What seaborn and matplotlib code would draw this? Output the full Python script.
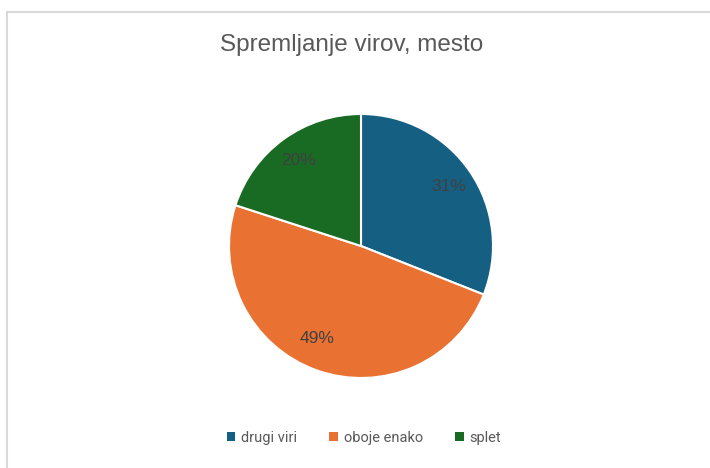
import matplotlib
matplotlib.use("Agg")
import matplotlib.pyplot as plt
from matplotlib.patches import Patch
from matplotlib.lines import Line2D
import seaborn as sns

categories = ["drugi viri", "oboje enako", "splet"]
shares = [31, 49, 20]
colors = ["#156082", "#E97132", "#196B24"]
title_text = "Spremljanje virov, mesto"

sns.set_theme(style="white")
plt.rcParams["font.family"] = ["Liberation Sans Narrow", "Liberation Sans", "DejaVu Sans"]

W, H = 710, 468
fig = plt.figure(figsize=(W / 100, H / 100), dpi=100)
fig.patch.set_facecolor("white")

# light chart-area frame
frame_kw = dict(color="#D9D9D9", linewidth=1.5, transform=fig.transFigure)
fig.add_artist(Line2D([7 / W, 1], [1 - 12 / H, 1 - 12 / H], **frame_kw))
fig.add_artist(Line2D([7 / W, 7 / W], [0, 1 - 12 / H], **frame_kw))

cx, cy, r = 361, 246, 132
ax = fig.add_axes([(cx - r) / W, (H - cy - r) / H, 2 * r / W, 2 * r / H])
wedges, texts, autotexts = ax.pie(
    shares,
    colors=colors,
    startangle=90,
    counterclock=False,
    autopct="%d%%",
    pctdistance=0.8,
    wedgeprops=dict(edgecolor="white", linewidth=1.5),
    textprops=dict(color="#404040", fontsize=12.5),
)
# the large slice's label sits a little further round and inward
autotexts[1].set_position((-0.33, -0.70))
ax.set_xlim(-1, 1)
ax.set_ylim(-1, 1)
ax.set_aspect("equal")
ax.axis("off")

fig.text(352 / W, 1 - 45 / H, title_text, ha="center", va="center",
         fontsize=17.5, color="#595959")

handles = [Patch(facecolor=c, edgecolor="none") for c in colors]
fig.legend(handles, categories, loc="center", bbox_to_anchor=(364 / W, 1 - 438 / H),
           ncol=3, frameon=False, handlelength=0.6, handleheight=0.6,
           handletextpad=0.4, columnspacing=2.2,
           prop={"family": ["Roboto", "DejaVu Sans"], "size": 10.5},
           labelcolor="#595959")

fig.savefig("out.png", dpi=100)
